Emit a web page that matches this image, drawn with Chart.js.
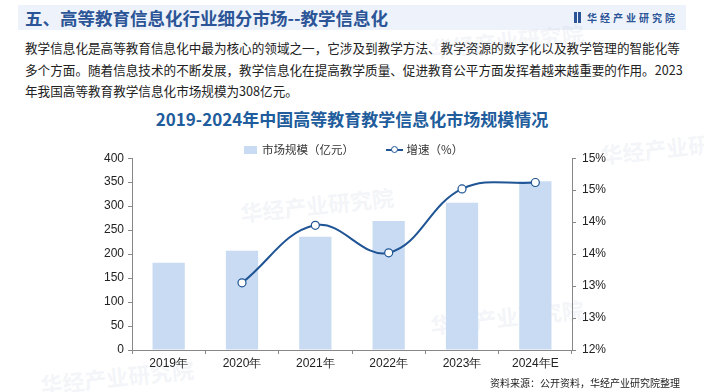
<!DOCTYPE html>
<html>
<head>
<meta charset="utf-8">
<script src="https://cdn.jsdelivr.net/npm/chart.js@4/dist/chart.umd.min.js"></script>
<style>
    body { margin: 0; width: 704px; height: 392px; background: #fff; position: relative; overflow: hidden; font-family: "Noto Sans CJK SC", "Noto Sans", sans-serif; }
    .header { position: absolute; left: 18px; top: 5px; width: 668px; height: 25px; background: #eef3fb; }
    .header h1 { position: absolute; left: 7px; top: 0; margin: 0; font-size: 17.5px; line-height: 25px; font-weight: bold; color: #2c5597; }
    .logo { position: absolute; right: 8px; top: 0; line-height: 25px; font-size: 10px; font-weight: bold; color: #2c5597; letter-spacing: 3px; }
    .logo span { display: inline-block; width: 7px; height: 11px; border-left: 3px solid #2c5597; border-right: 3px solid #2c5597; box-sizing: border-box; vertical-align: -1px; margin-right: 6px; }
    .intro { position: absolute; left: 25px; top: 37px; width: 670px; font-size: 12.6px; line-height: 21.5px; color: #222; margin: 0; }
    .title { position: absolute; left: 0; width: 704px; top: 106px; text-align: center; font-size: 17px; font-weight: bold; color: #215c9c; }
    .legend { position: absolute; top: 141px; left: 244px; font-size: 11.5px; color: #333; white-space: nowrap; z-index: 2; }
    .legend .box { display: inline-block; width: 13px; height: 8px; background: #c9dbf2; margin-right: 5px; }
    .legend .ln { display: inline-block; position: relative; width: 17px; height: 2px; background: #1f5495; vertical-align: 3px; margin: 0 1px 0 32px; }
    .legend .ln i { position: absolute; left: 5px; top: -3px; width: 5px; height: 5px; border: 1px solid #1f5495; border-radius: 50%; background: #fff; }
    .wm { position: absolute; color: rgba(180,195,215,0.18); font-weight: bold; font-size: 22px; transform: rotate(-6deg); white-space: nowrap; }
    #chart-box { position: absolute; left: 0; top: 145px; width: 704px; height: 231px; }
    .source { position: absolute; right: 24px; top: 375px; font-size: 10px; color: #222; }
</style>
</head>
<body>
<div class="header">
    <h1>五、高等教育信息化行业细分市场--教学信息化</h1>
    <div class="logo"><span></span>华经产业研究院</div>
</div>
<p class="intro">教学信息化是高等教育信息化中最为核心的领域之一，它涉及到教学方法、教学资源的数字化以及教学管理的智能化等<br>多个方面。随着信息技术的不断发展，教学信息化在提高教学质量、促进教育公平方面发挥着越来越重要的作用。2023<br>年我国高等教育教学信息化市场规模为308亿元。</p>
<div class="wm" style="left:430px;top:24px;">华经产业研究院</div>
<div class="wm" style="left:240px;top:188px;">华经产业研究院</div>
<div class="wm" style="left:600px;top:130px;">华经产业研究院</div>
<div class="wm" style="left:430px;top:300px;">华经产业研究院</div>
<div class="wm" style="left:40px;top:360px;">华经产业研究院</div>
<div class="title">2019-2024年中国高等教育教学信息化市场规模情况</div>
<div id="chart-box"><canvas id="chart"></canvas></div>
<div class="legend"><span class="box"></span>市场规模（亿元）<span class="ln"><i></i></span> 增速（%）</div>
<div class="source">资料来源：公开资料，华经产业研究院整理</div>

<script>
const categories = ['2019年', '2020年', '2021年', '2022年', '2023年', '2024年E'];
const marketSize = [182, 207, 236, 269, 307, 352];
const growthRate = [null, 13.05, 13.95, 13.52, 14.52, 14.62];

const tickFont = { family: '"Liberation Sans", Arial, sans-serif', size: 12 };

const ctx = document.getElementById('chart').getContext('2d');
new Chart(ctx, {
    type: 'bar',
    data: {
        labels: categories,
        datasets: [
            {
                type: 'line',
                label: '增速（%）',
                data: growthRate,
                yAxisID: 'y1',
                borderColor: '#1f5495',
                borderWidth: 2,
                tension: 0.4,
                pointRadius: 4,
                pointBorderWidth: 1.2,
                pointBackgroundColor: '#fff',
                pointBorderColor: '#1f5495',
                order: 0
            },
            {
                label: '市场规模（亿元）',
                data: marketSize,
                yAxisID: 'y',
                backgroundColor: '#c9dbf2',
                categoryPercentage: 1,
                barPercentage: 0.44,
                order: 1
            }
        ]
    },
    options: {
        responsive: true,
        maintainAspectRatio: false,
        animation: false,
        layout: { padding: { top: 2, left: 0, right: 0, bottom: 0 } },
        plugins: { legend: { display: false }, tooltip: { enabled: false } },
        scales: {
            x: {
                offset: true,
                grid: { display: true, drawOnChartArea: false, offset: true, color: '#888', tickLength: 4 },
                border: { color: '#888' },
                ticks: { color: '#222', font: tickFont, padding: 2 },
                afterFit: (s) => { s.height = 26; }
            },
            y: {
                position: 'left',
                min: 0, max: 400,
                grid: { drawOnChartArea: false, color: '#888', tickLength: 4 },
                border: { color: '#888' },
                ticks: { stepSize: 50, color: '#222', font: tickFont, padding: 4 },
                afterFit: (s) => { s.width = 132; }
            },
            y1: {
                position: 'right',
                min: 12, max: 15,
                grid: { drawOnChartArea: false, color: '#888', tickLength: 4 },
                border: { color: '#888' },
                ticks: {
                    stepSize: 0.5, color: '#222', font: tickFont, padding: 6,
                    callback: (v) => Math.round(v) + '%'
                },
                afterFit: (s) => { s.width = 132; }
            }
        }
    }
});
</script>
</body>
</html>
